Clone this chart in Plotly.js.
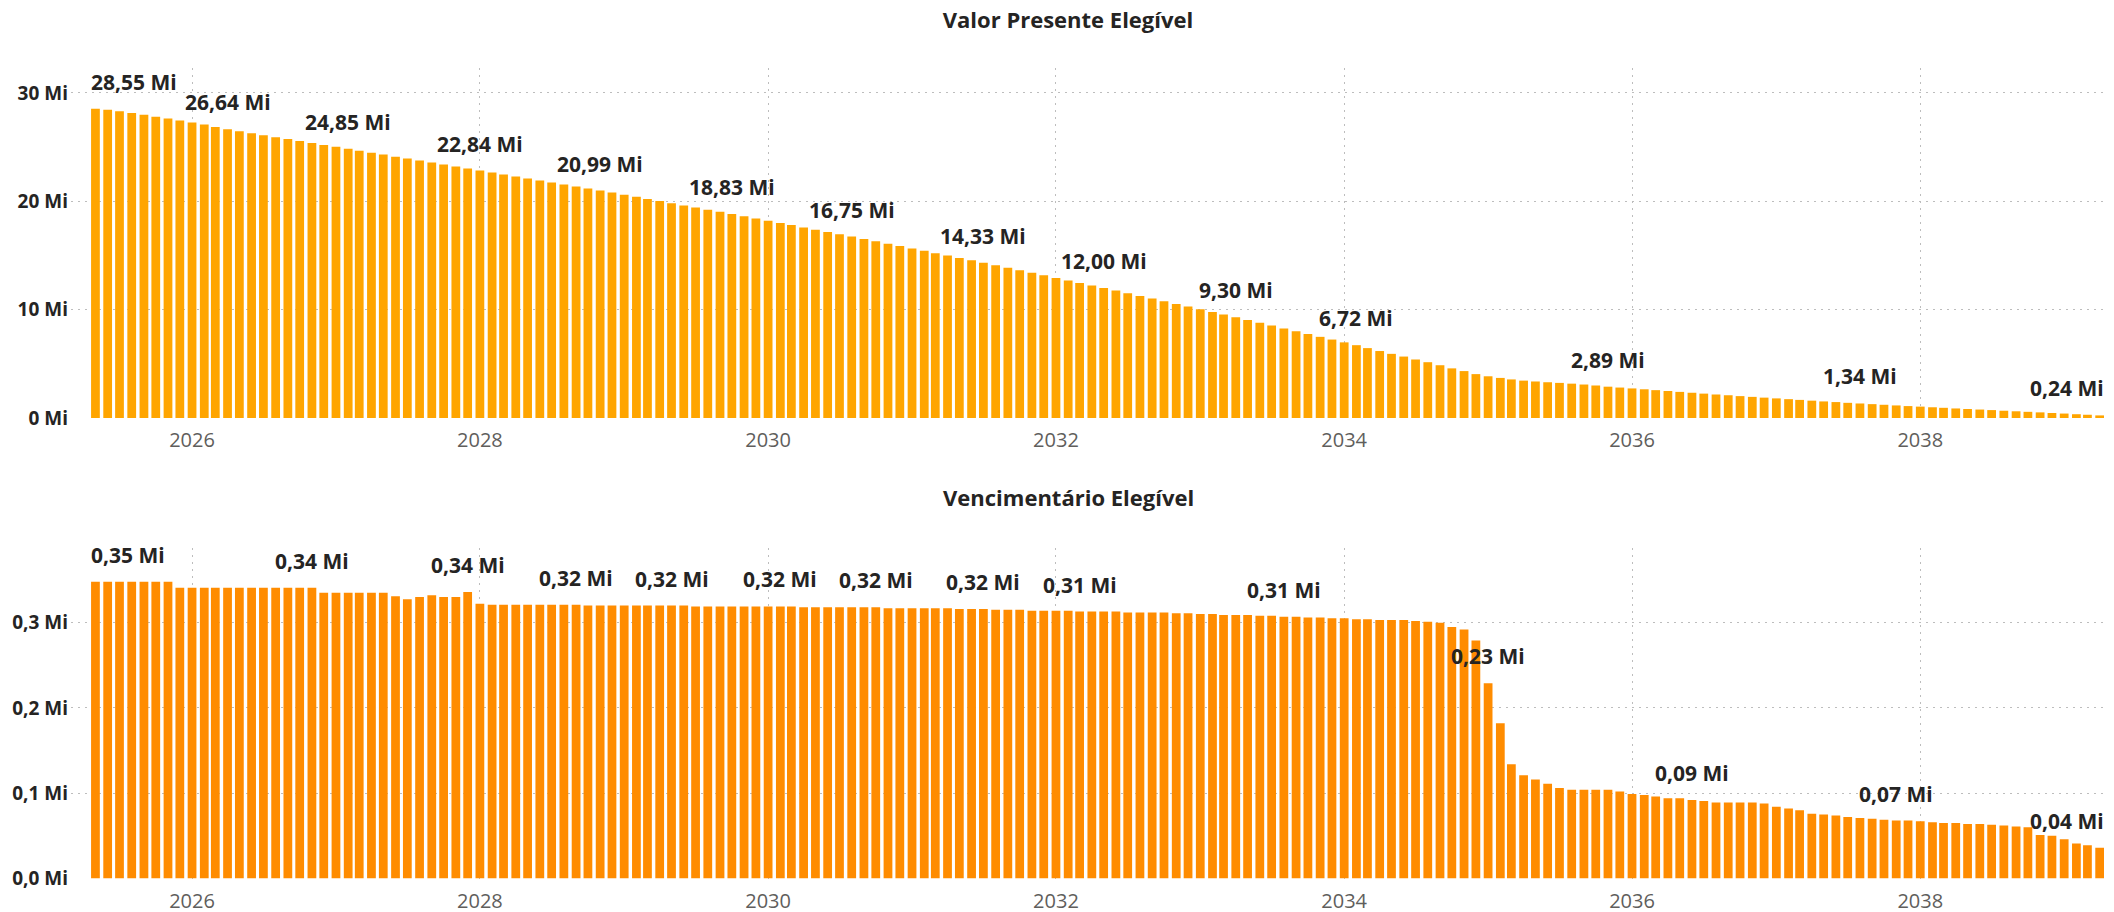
<!DOCTYPE html>
<html>
<head>
<meta charset="utf-8">
<script src="https://cdn.plot.ly/plotly-3.0.1.min.js"></script>
<style>
  html, body { margin: 0; padding: 0; background: #ffffff; }
  #chart { width: 2114px; height: 912px; }
</style>
</head>
<body>
<div id="chart"></div>
<script>
// Monthly series, first month May 2025
const startYear = 2025;
const startMonth = 5;

// Valor Presente Elegível (milhões)
const valorPresente = [
  28.55, 28.45, 28.30, 28.14, 27.98, 27.81, 27.63, 27.45, 27.27, 27.09, 26.86, 26.64,
  26.46, 26.28, 26.10, 25.92, 25.74, 25.56, 25.38, 25.20, 25.03, 24.85,
  24.67, 24.49, 24.31, 24.12, 23.94, 23.76, 23.57, 23.39, 23.21, 23.02, 22.84,
  22.66, 22.47, 22.29, 22.10, 21.92, 21.73, 21.55, 21.36, 21.18, 20.99,
  20.80, 20.60, 20.41, 20.21, 20.02, 19.82, 19.62, 19.43, 19.23, 19.03, 18.83,
  18.63, 18.42, 18.21, 18.00, 17.80, 17.59, 17.38, 17.17, 16.96, 16.75,
  16.53, 16.31, 16.09, 15.87, 15.65, 15.43, 15.21, 14.99, 14.77, 14.55, 14.33,
  14.10, 13.87, 13.63, 13.40, 13.17, 12.93, 12.70, 12.47, 12.23, 12.00,
  11.76, 11.51, 11.27, 11.02, 10.78, 10.53, 10.29, 10.04, 9.79, 9.55, 9.30,
  9.04, 8.78, 8.53, 8.27, 8.01, 7.75, 7.49, 7.24, 6.98, 6.72,
  6.45, 6.18, 5.92, 5.67, 5.40, 5.15, 4.87, 4.58, 4.33, 4.05, 3.85,
  3.70, 3.56, 3.45, 3.37, 3.30, 3.24, 3.17, 3.09, 3.00, 2.89,
  2.81, 2.73, 2.65, 2.57, 2.49, 2.41, 2.33, 2.25, 2.17, 2.10, 2.02,
  1.95, 1.88, 1.81, 1.74, 1.67, 1.60, 1.53, 1.47, 1.40, 1.34,
  1.28, 1.22, 1.16, 1.10, 1.05, 0.99, 0.94, 0.88, 0.83, 0.78,
  0.73, 0.67, 0.62, 0.57, 0.52, 0.46, 0.41, 0.35, 0.30, 0.24
];

// Vencimentário Elegível (milhões)
const vencimentario = [
  0.348, 0.348, 0.348, 0.348, 0.348, 0.348, 0.348,
  0.341, 0.341, 0.341, 0.341, 0.341, 0.341, 0.341, 0.341, 0.341, 0.341, 0.341, 0.341,
  0.335, 0.335, 0.335, 0.335, 0.335, 0.335,
  0.331, 0.3275, 0.330, 0.332, 0.330, 0.330, 0.336,
  0.322, 0.321, 0.321, 0.321, 0.321, 0.321, 0.321, 0.321, 0.321,
  0.320, 0.320, 0.320, 0.320, 0.320, 0.320, 0.320, 0.320, 0.320,
  0.319, 0.319, 0.319, 0.319, 0.319, 0.319, 0.319, 0.319, 0.319,
  0.318, 0.318, 0.318, 0.318, 0.318, 0.318, 0.318,
  0.317, 0.317, 0.317, 0.317, 0.317, 0.317,
  0.316, 0.316, 0.316, 0.315, 0.315, 0.315,
  0.314, 0.314, 0.314, 0.314, 0.313, 0.313, 0.313, 0.313,
  0.312, 0.312, 0.312, 0.312, 0.311, 0.311, 0.310, 0.310,
  0.309, 0.309, 0.309, 0.308, 0.308, 0.307, 0.307, 0.306, 0.306,
  0.305, 0.305, 0.304, 0.304, 0.303, 0.303, 0.303, 0.302, 0.301, 0.300,
  0.295, 0.292, 0.279, 0.229, 0.182, 0.134, 0.121, 0.116, 0.111, 0.106,
  0.104, 0.104, 0.104, 0.104, 0.102, 0.099, 0.098, 0.096, 0.094, 0.094,
  0.092, 0.091, 0.089, 0.089, 0.089, 0.089, 0.088, 0.084, 0.082, 0.080,
  0.076, 0.075, 0.074, 0.072, 0.071, 0.070, 0.069, 0.068, 0.068, 0.067,
  0.066, 0.065, 0.065, 0.064, 0.064, 0.063, 0.062, 0.061, 0.060,
  0.051, 0.050, 0.046, 0.041, 0.039, 0.036
];

// Months that carry a data label
const valorPresenteLabelIdx = [0, 11, 21, 32, 42, 53, 63, 74, 84, 95, 105, 126, 147, 167];
const vencimentarioLabelIdx = [0, 18, 31, 40, 48, 57, 65, 74, 82, 99, 116, 133, 150, 167];

const chartTitles = ['Valor Presente Elegível', 'Vencimentário Elegível'];
const unitSuffix = ' Mi';

// Month dates
const months = valorPresente.map((_, k) => {
  const m0 = startMonth - 1 + k;
  const y = startYear + Math.floor(m0 / 12);
  const m = (m0 % 12) + 1;
  return y + '-' + String(m).padStart(2, '0') + '-01';
});

const FONT = '"Open Sans", "Noto Sans", sans-serif';
const W = 2114, H = 912;
const plotLeft = 71, plotRight = 2104;
const xDomain = [plotLeft / W, plotRight / W];
const xRange = ['2025-02-28', '2039-04-12'];

const fmt = (v) => v.toFixed(2).replace('.', ',') + unitSuffix;

const barWidthMs = 0.73 * 30.44 * 24 * 3600 * 1000;

const traces = [
  {
    type: 'bar', x: months, y: valorPresente, xaxis: 'x', yaxis: 'y',
    marker: { color: '#FFA500' }, width: barWidthMs, hoverinfo: 'x+y'
  },
  {
    type: 'bar', x: months, y: vencimentario, xaxis: 'x2', yaxis: 'y2',
    marker: { color: '#FF8C00' }, width: barWidthMs, hoverinfo: 'x+y'
  }
];

function dataLabels(values, idxList, xref, yref) {
  const last = values.length - 1;
  return idxList.map((i) => ({
    xref: xref, yref: yref, x: months[i], y: values[i],
    text: fmt(values[i]), showarrow: false,
    xanchor: i === 0 ? 'left' : (i === last ? 'right' : 'center'),
    xshift: i === 0 ? -6 : (i === last ? 6 : 0),
    yanchor: 'middle', yshift: 27,
    font: { family: FONT, size: 21, color: '#252423', weight: 700 }
  }));
}

// Sparse dotted grid
const GRID_DASH = '2px,5px';
const GRID_COLOR = '#bdbdbd';

const xAxisBase = {
  type: 'date', domain: xDomain, range: xRange,
  tickmode: 'linear', tick0: '2026-01-01', dtick: 'M24', tickformat: '%Y',
  showgrid: true, gridcolor: GRID_COLOR, griddash: GRID_DASH, gridwidth: 1,
  zeroline: false, showline: false, ticks: '',
  ticklabelstandoff: 8,
  tickfont: { family: FONT, size: 20, color: '#605E5C' }
};

const yAxisBase = {
  showgrid: true, gridcolor: GRID_COLOR, griddash: GRID_DASH, gridwidth: 1,
  zeroline: false, showline: false, ticks: '',
  ticksuffix: unitSuffix,
  ticklabelstandoff: 2,
  tickfont: { family: FONT, size: 19, color: '#252423', weight: 700 }
};

const layout = {
  width: W, height: H,
  margin: { l: 0, r: 0, t: 0, b: 0 },
  paper_bgcolor: '#ffffff', plot_bgcolor: '#ffffff',
  separators: ',.',
  showlegend: false,
  title: {
    text: chartTitles[0], x: 1068 / W, xanchor: 'center',
    xref: 'paper', y: 1 - 20 / H, yref: 'container', yanchor: 'middle',
    font: { family: FONT, size: 22, color: '#252423', weight: 700 }
  },
  xaxis: Object.assign({}, xAxisBase, { anchor: 'y' }),
  xaxis2: Object.assign({}, xAxisBase, { anchor: 'y2' }),
  yaxis: Object.assign({}, yAxisBase, {
    domain: [1 - 418 / H, 1 - 68 / H], range: [0, 32.3],
    tickmode: 'linear', tick0: 0, dtick: 10, tickformat: '.0f', anchor: 'x'
  }),
  yaxis2: Object.assign({}, yAxisBase, {
    domain: [1 - 878.5 / H, 1 - 548 / H], range: [0, 0.3875],
    tickmode: 'linear', tick0: 0, dtick: 0.1, tickformat: '.1f', anchor: 'x2'
  }),
  annotations: [
    {
      xref: 'paper', yref: 'paper', x: 1068 / W, y: 1 - 497 / H,
      xanchor: 'center', yanchor: 'middle', showarrow: false,
      text: chartTitles[1],
      font: { family: FONT, size: 22, color: '#252423', weight: 700 }
    }
  ].concat(
    dataLabels(valorPresente, valorPresenteLabelIdx, 'x', 'y'),
    dataLabels(vencimentario, vencimentarioLabelIdx, 'x2', 'y2')
  )
};

Plotly.newPlot('chart', traces, layout, { displayModeBar: false, staticPlot: true });
</script>
</body>
</html>
